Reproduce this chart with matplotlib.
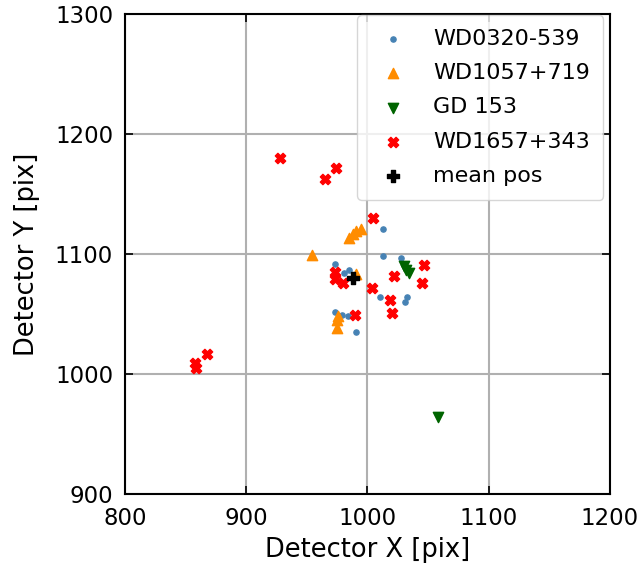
import matplotlib
matplotlib.use('Agg')
import matplotlib.pyplot as plt

# detector positions
wd0320_x = [1013, 1013, 1028, 973, 985, 981, 1010, 1033, 1031, 973, 979, 984, 991]
wd0320_y = [1121, 1098, 1097, 1092, 1087, 1084, 1064, 1064, 1060, 1052, 1049, 1048, 1035]

wd1057_x = [954, 985, 988, 991, 995, 991, 975, 975, 976]
wd1057_y = [1099, 1113, 1117, 1119, 1121, 1083, 1045, 1038, 1048]

gd153_x = [1030, 1032, 1034, 1058]
gd153_y = [1090, 1087, 1084, 964]

wd1657_x = [928, 965, 974, 1005, 1047, 1022, 1045, 1004, 1019, 1020, 990,
            973, 973, 980, 858, 859, 868]
wd1657_y = [1180, 1163, 1172, 1130, 1091, 1082, 1076, 1072, 1062, 1051, 1049,
            1085, 1079, 1076, 1009, 1005, 1017]

mean_x = [988]
mean_y = [1080]

fig = plt.figure(figsize=(6.44, 5.69), dpi=100)
ax = fig.add_axes([0.194, 0.132, 0.753, 0.843])

ax.scatter(wd0320_x, wd0320_y, s=14, marker='o', color='steelblue', label='WD0320-539', zorder=3)
ax.scatter(wd1057_x, wd1057_y, s=55, marker='^', color='darkorange', label='WD1057+719', zorder=3)
ax.scatter(gd153_x, gd153_y, s=55, marker='v', color='darkgreen', label='GD 153', zorder=3)
ax.scatter(wd1657_x, wd1657_y, s=55, marker='X', color='red', label='WD1657+343', zorder=3)
ax.scatter(mean_x, mean_y, s=65, marker='P', color='black', label='mean pos', zorder=4)

ax.set_xlim(800, 1200)
ax.set_ylim(900, 1300)
ax.set_xticks([800, 900, 1000, 1100, 1200])
ax.set_yticks([900, 1000, 1100, 1200, 1300])
ax.grid(True, color='#b0b0b0', lw=1.5)
ax.set_axisbelow(True)
ax.tick_params(direction='in', labelsize=16.5, top=True, right=True, length=6, width=1.2)
ax.tick_params(axis='x', pad=9.5)
ax.tick_params(axis='y', pad=8.5)
ax.set_xlabel('Detector X [pix]', fontsize=18.5, labelpad=5)
ax.set_ylabel('Detector Y [pix]', fontsize=18.5, labelpad=11)
for s in ax.spines.values():
    s.set_linewidth(1.5)

ax.legend(loc='upper right', fontsize=16, bbox_to_anchor=(0.986, 0.998),
          borderaxespad=0, borderpad=0.6, labelspacing=0.65)

plt.savefig('out.png')
